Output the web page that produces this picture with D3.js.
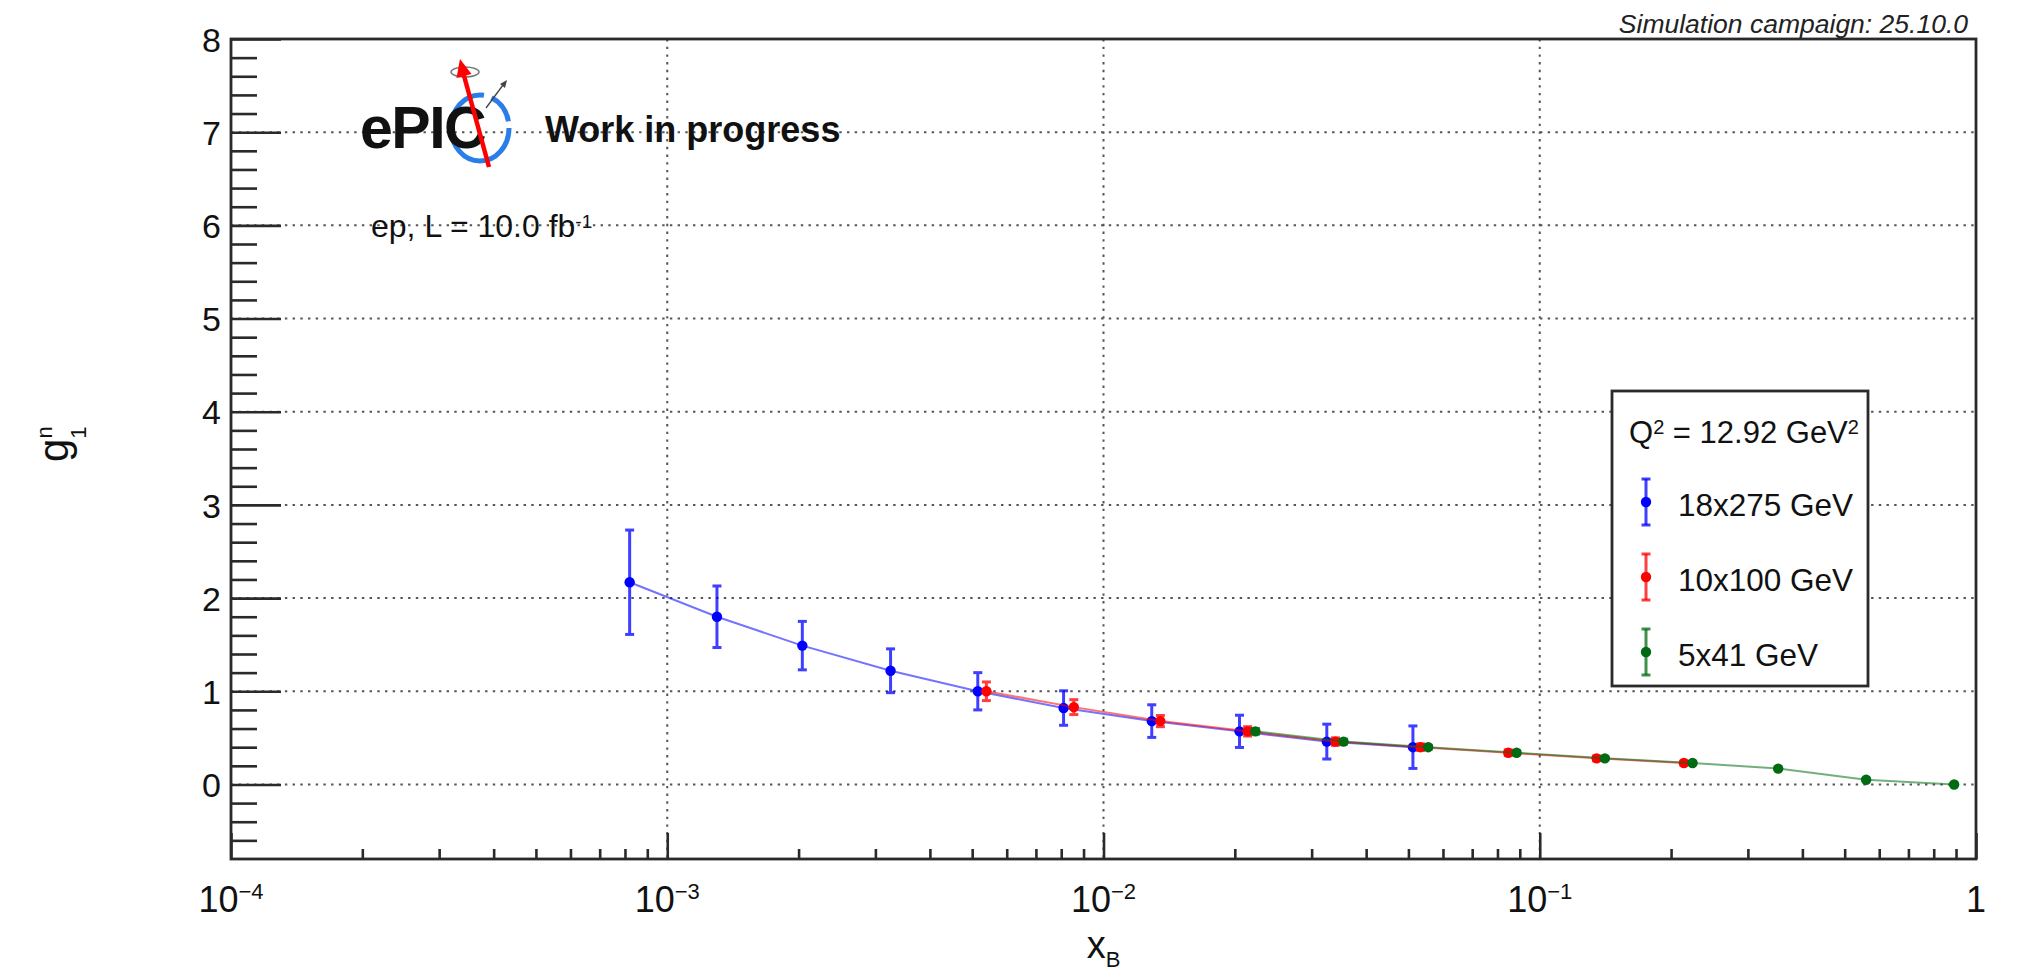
<!DOCTYPE html>
<html>
<head>
<meta charset="utf-8">
<script src="https://cdn.jsdelivr.net/npm/d3@7"></script>
<style>
  html, body { margin: 0; padding: 0; background: #fff; }
  svg { display: block; font-family: "Liberation Sans", Arial, Helvetica, sans-serif; }
</style>
</head>
<body>
<svg id="chart" width="2023" height="974"></svg>
<script>
// ---- data: g1 of the neutron vs x_B at Q^2 = 12.92 GeV^2 ----
const xBlue  = [8.2e-4, 1.30e-3, 2.04e-3, 3.25e-3, 5.15e-3, 8.1e-3, 1.29e-2, 2.05e-2, 3.25e-2, 5.12e-2];
const gBlue  = [2.17, 1.80, 1.49, 1.22, 1.00, 0.82, 0.68, 0.57, 0.46, 0.40];
const eBlue  = [0.56, 0.33, 0.26, 0.235, 0.20, 0.185, 0.175, 0.173, 0.187, 0.228];

const xRed   = [5.39e-3, 8.55e-3, 1.35e-2, 2.14e-2, 3.40e-2, 5.33e-2, 8.47e-2, 0.135, 0.214];
const gRed   = [1.00, 0.83, 0.68, 0.57, 0.46, 0.40, 0.34, 0.28, 0.23];
const eRed   = [0.10, 0.08, 0.06, 0.05, 0.04, 0.035, 0.03, 0.025, 0.02];

const xGreen = [2.23e-2, 3.55e-2, 5.55e-2, 8.85e-2, 0.141, 0.224, 0.352, 0.560, 0.891];
const gGreen = [0.57, 0.46, 0.40, 0.34, 0.28, 0.23, 0.17, 0.05, 0.00];
const eGreen = [0.03, 0.025, 0.02, 0.02, 0.015, 0.015, 0.015, 0.01, 0.01];

const seriesLabels = ["18x275 GeV", "10x100 GeV", "5x41 GeV"];
const seriesColors = ["#0000ff", "#ff0000", "#006b12"];

// axis ticks and labels
const xTickValues = [1e-4, 1e-3, 1e-2, 1e-1, 1];
const xTickBase   = ["10", "10", "10", "10", "1"];
const xTickExp    = ["\u22124", "\u22123", "\u22122", "\u22121", ""];
const xMinorMult  = [2, 3, 4, 5, 6, 7, 8, 9];
const yTickValues = [0, 1, 2, 3, 4, 5, 6, 7, 8];
const yMinorStep  = 0.2;

// ---- layout ----
const svg = d3.select("#chart");
const frame = { left: 231, right: 1976, top: 39, bottom: 859 };
const x = d3.scaleLog().domain([1e-4, 1]).range([frame.left, frame.right]);
const y = d3.scaleLinear().domain([-0.8, 8]).range([frame.bottom, frame.top]);

svg.append("rect").attr("width", 2023).attr("height", 974).attr("fill", "#fff");

// ---- grid ----
const grid = svg.append("g").attr("stroke", "#555").attr("stroke-width", 2)
  .attr("stroke-dasharray", "2.4,5.3").attr("fill", "none");
grid.selectAll("line.gy").data(yTickValues.filter(v => v < 8)).join("line")
  .attr("x1", frame.left).attr("x2", frame.right)
  .attr("y1", d => y(d)).attr("y2", d => y(d));
grid.selectAll("line.gx").data(xTickValues.slice(1, -1)).join("line")
  .attr("y1", frame.top).attr("y2", frame.bottom)
  .attr("x1", d => x(d)).attr("x2", d => x(d));

// ---- axes (ticks drawn inward) ----
const axisColor = "#2a2a2a";
const xMinorValues = [];
xTickValues.slice(0, -1).forEach(d => xMinorMult.forEach(m => xMinorValues.push(d * m)));
const yMinorValues = [];
for (let v = -0.8 + yMinorStep; v < 8 - 1e-9; v += yMinorStep) {
  const r = Math.round(v * 10) / 10;
  if (Math.abs(r - Math.round(r)) > 1e-6) yMinorValues.push(r);
}

function styleAxis(g) {
  g.select(".domain").remove();
  g.selectAll(".tick line").attr("stroke", axisColor).attr("stroke-width", 2.6);
}

svg.append("g").attr("transform", `translate(0,${frame.bottom})`)
  .call(d3.axisBottom(x).tickValues(xTickValues).tickSizeInner(-26).tickSizeOuter(0).tickFormat(""))
  .call(styleAxis);
svg.append("g").attr("transform", `translate(0,${frame.bottom})`)
  .call(d3.axisBottom(x).tickValues(xMinorValues).tickSizeInner(-10).tickSizeOuter(0).tickFormat(""))
  .call(styleAxis);

svg.append("g").attr("transform", `translate(${frame.left},0)`)
  .call(d3.axisLeft(y).tickValues(yTickValues).tickSizeInner(-50).tickSizeOuter(0)
        .tickPadding(10).tickFormat(d3.format("d")))
  .call(styleAxis)
  .call(g => g.selectAll(".tick text").attr("font-size", 34).attr("fill", "#111")
        .attr("font-family", "Liberation Sans, Arial, sans-serif").attr("dy", "0.36em"));
svg.append("g").attr("transform", `translate(${frame.left},0)`)
  .call(d3.axisLeft(y).tickValues(yMinorValues).tickSizeInner(-26).tickSizeOuter(0).tickFormat(""))
  .call(styleAxis);

// x tick labels with exponents
const xl = svg.append("g").attr("fill", "#111");
xTickValues.forEach((v, i) => {
  const t = xl.append("text").attr("x", x(v)).attr("y", 912)
    .attr("text-anchor", "middle").attr("font-size", 36).text(xTickBase[i]);
  if (xTickExp[i]) t.append("tspan").attr("font-size", 22).attr("dy", -13).text(xTickExp[i]);
});

// frame
svg.append("rect").attr("x", frame.left).attr("y", frame.top)
  .attr("width", frame.right - frame.left).attr("height", frame.bottom - frame.top)
  .attr("fill", "none").attr("stroke", axisColor).attr("stroke-width", 2.8);

// axis titles
const xt = svg.append("text").attr("x", (frame.left + frame.right) / 2).attr("y", 958)
  .attr("text-anchor", "middle").attr("font-size", 38).attr("fill", "#111").text("x");
xt.append("tspan").attr("font-size", 22).attr("dy", 9).text("B");

const yt = svg.append("text").attr("transform", "translate(68,462) rotate(-90)")
  .attr("font-size", 42).attr("fill", "#111").text("g");
yt.append("tspan").attr("font-size", 22).attr("dy", 18).text("1");
yt.append("tspan").attr("font-size", 22).attr("dx", -12).attr("dy", -34).text("n");

// campaign tag
svg.append("text").attr("x", 1968).attr("y", 33).attr("text-anchor", "end")
  .attr("font-size", 26.5).attr("font-style", "italic").attr("fill", "#222")
  .text("Simulation campaign: 25.10.0");

// ---- ePIC logo and labels ----
const logo = svg.append("g");
logo.append("ellipse").attr("cx", 480).attr("cy", 128).attr("rx", 29).attr("ry", 33)
  .attr("fill", "none").attr("stroke", "#2b7de9").attr("stroke-width", 5)
  .attr("stroke-dasharray", "150,8,30,8");
logo.append("text").attr("x", 360).attr("y", 148).attr("font-size", 59)
  .attr("font-weight", "bold").attr("fill", "#111").attr("letter-spacing", -1.5).text("ePIC");
logo.append("ellipse").attr("cx", 465).attr("cy", 72).attr("rx", 14).attr("ry", 5)
  .attr("fill", "none").attr("stroke", "#777").attr("stroke-width", 1.5);
logo.append("line").attr("x1", 489).attr("y1", 167).attr("x2", 463).attr("y2", 72)
  .attr("stroke", "#f00").attr("stroke-width", 4.5);
logo.append("polygon").attr("points", "460,59 471.5,74 456.5,78").attr("fill", "#f00");
logo.append("line").attr("x1", 486).attr("y1", 108).attr("x2", 503).attr("y2", 85)
  .attr("stroke", "#444").attr("stroke-width", 1.3);
logo.append("polygon").attr("points", "507,80 505,88 500,84").attr("fill", "#444");

svg.append("text").attr("x", 545).attr("y", 142).attr("font-size", 36)
  .attr("font-weight", "bold").attr("fill", "#111").text("Work in progress");

const lumi = svg.append("text").attr("x", 371).attr("y", 237).attr("font-size", 32)
  .attr("fill", "#111").text("ep, L = 10.0 fb");
lumi.append("tspan").attr("font-size", 19).attr("dy", -9).text("-1");

// ---- legend ----
const leg = svg.append("g");
leg.append("rect").attr("x", 1612).attr("y", 391).attr("width", 256).attr("height", 295)
  .attr("fill", "#fff").attr("stroke", axisColor).attr("stroke-width", 2.8);
const head = leg.append("text").attr("x", 1629).attr("y", 443).attr("font-size", 31)
  .attr("fill", "#111").text("Q");
head.append("tspan").attr("font-size", 20).attr("dy", -9).text("2");
head.append("tspan").attr("dy", 9).text(" = 12.92 GeV");
head.append("tspan").attr("font-size", 20).attr("dy", -9).text("2");

const legY = [502, 577, 652];
seriesLabels.forEach((lab, i) => {
  const c = seriesColors[i], cy = legY[i], cx = 1646;
  leg.append("line").attr("x1", cx).attr("x2", cx).attr("y1", cy - 23).attr("y2", cy + 23)
    .attr("stroke", c).attr("stroke-width", 3).attr("opacity", 0.75);
  [cy - 23, cy + 23].forEach(yy => leg.append("line").attr("x1", cx - 4.5).attr("x2", cx + 4.5)
    .attr("y1", yy).attr("y2", yy).attr("stroke", c).attr("stroke-width", 3).attr("opacity", 0.75));
  leg.append("circle").attr("cx", cx).attr("cy", cy).attr("r", 5.2).attr("fill", c);
  leg.append("text").attr("x", 1678).attr("y", cy + 14).attr("font-size", 31.5)
    .attr("fill", "#111").text(lab);
});

// ---- data series ----
const series = [
  { xs: xBlue, ys: gBlue, es: eBlue, color: seriesColors[0] },
  { xs: xRed, ys: gRed, es: eRed, color: seriesColors[1] },
  { xs: xGreen, ys: gGreen, es: eGreen, color: seriesColors[2] }
];
const line = d3.line().x(d => x(d.x)).y(d => y(d.y));

series.forEach(s => {
  const pts = s.xs.map((xv, i) => ({ x: xv, y: s.ys[i], e: s.es[i] }));
  const g = svg.append("g");
  g.append("path").datum(pts).attr("d", line).attr("fill", "none")
    .attr("stroke", s.color).attr("stroke-width", 2).attr("opacity", 0.55);
  const eb = g.selectAll("g.err").data(pts).join("g").attr("opacity", 0.75);
  eb.append("line").attr("x1", d => x(d.x)).attr("x2", d => x(d.x))
    .attr("y1", d => y(d.y + d.e)).attr("y2", d => y(d.y - d.e))
    .attr("stroke", s.color).attr("stroke-width", 3);
  eb.append("line").attr("x1", d => x(d.x) - 4.5).attr("x2", d => x(d.x) + 4.5)
    .attr("y1", d => y(d.y + d.e)).attr("y2", d => y(d.y + d.e))
    .attr("stroke", s.color).attr("stroke-width", 3);
  eb.append("line").attr("x1", d => x(d.x) - 4.5).attr("x2", d => x(d.x) + 4.5)
    .attr("y1", d => y(d.y - d.e)).attr("y2", d => y(d.y - d.e))
    .attr("stroke", s.color).attr("stroke-width", 3);
  g.selectAll("circle").data(pts).join("circle")
    .attr("cx", d => x(d.x)).attr("cy", d => y(d.y)).attr("r", 5.2).attr("fill", s.color);
});
</script>
</body>
</html>
